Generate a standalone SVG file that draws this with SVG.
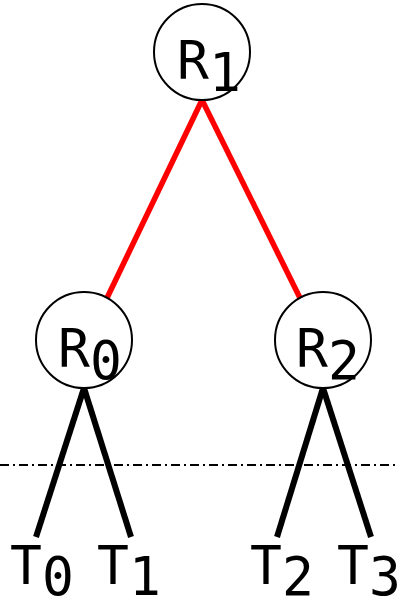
<svg xmlns="http://www.w3.org/2000/svg" width="397" height="600" viewBox="0 0 397 600">
<style>
.node{fill:#fff;stroke:#000;stroke-width:2}
.lbl{font-family:"DejaVu Sans Mono",monospace;font-size:53px;fill:#000}
.red{stroke:#ff0000;stroke-width:5.5;fill:none}
.blk{stroke:#000;stroke-width:6;fill:none}
</style>
<rect width="397" height="600" fill="#fff"/>
<line x1="0" y1="465" x2="397" y2="465" stroke="#000" stroke-width="2" stroke-dasharray="9 4 2 4"/>
<g id="connectors">
<line class="red" x1="202" y1="100" x2="107" y2="298"/>
<line class="red" x1="202" y1="100" x2="300" y2="298"/>
<line class="blk" x1="84" y1="388" x2="36" y2="537"/>
<line class="blk" x1="84" y1="388" x2="131" y2="537"/>
<line class="blk" x1="323" y1="388" x2="277" y2="537"/>
<line class="blk" x1="323" y1="388" x2="371" y2="537"/>
</g>
<g id="R1"><circle class="node" cx="202" cy="52" r="48"/><text class="lbl" x="177" y="79">R<tspan dy="12">1</tspan></text></g>
<g id="R0"><circle class="node" cx="84" cy="340" r="48"/><text class="lbl" x="58" y="367">R<tspan dy="12">0</tspan></text></g>
<g id="R2"><circle class="node" cx="323" cy="340" r="48"/><text class="lbl" x="296" y="367">R<tspan dy="12">2</tspan></text></g>
<g id="T0"><text class="lbl" x="10" y="584">T<tspan dy="11">0</tspan></text></g>
<g id="T1"><text class="lbl" x="97" y="584">T<tspan dy="11">1</tspan></text></g>
<g id="T2"><text class="lbl" x="250" y="584">T<tspan dy="11">2</tspan></text></g>
<g id="T3"><text class="lbl" x="337" y="584">T<tspan dy="11">3</tspan></text></g>
</svg>
